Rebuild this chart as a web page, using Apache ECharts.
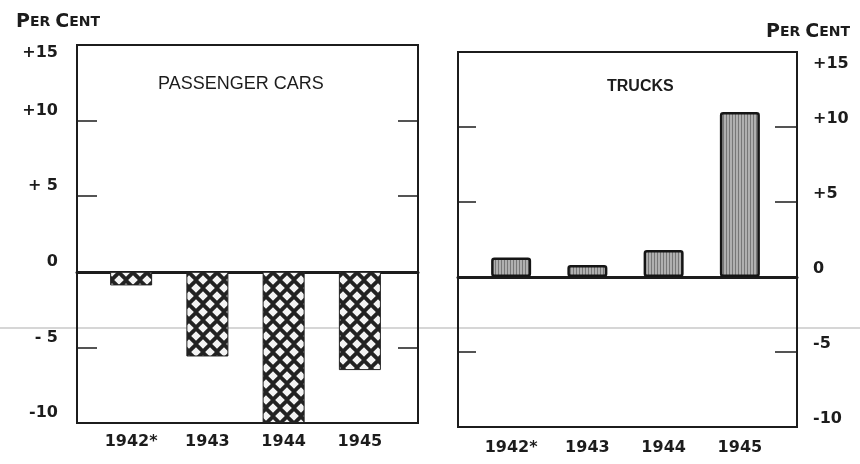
<!DOCTYPE html>
<html>
<head>
<meta charset="utf-8">
<script src="https://cdn.jsdelivr.net/npm/echarts@6/dist/echarts.min.js"></script>
<style>
  html, body { margin: 0; padding: 0; background: #fff; }
  #main { width: 860px; height: 464px; }
</style>
</head>
<body>
<div id="main"></div>
<script>
// data
var years = ['1942*', '1943', '1944', '1945'];
var passengerCars = [-0.9, -5.6, -10, -6.5];
var trucks = [1.3, 0.8, 1.8, 11.0];
var yTicks = [-10, -5, 0, 5, 10, 15];
var leftTickLabels = ['-10', '- 5', '0', '+ 5', '+10', '+15'];
var rightTickLabels = ['-10', '-5', '0', '+5', '+10', '+15'];

// cross-hatch for passenger cars: dark lattice with white diamonds
function crossHatch() {
    var c = document.createElement('canvas');
    c.width = 14; c.height = 16;
    var g = c.getContext('2d');
    g.fillStyle = '#222';
    g.fillRect(0, 0, 14, 16);
    g.fillStyle = '#f4f4f4';
    var h = 4.8;
    var pts = [[0, 0], [14, 0], [0, 16], [14, 16], [7, 8]];
    pts.forEach(function (p) {
        g.beginPath();
        g.moveTo(p[0], p[1] - h);
        g.lineTo(p[0] + h, p[1]);
        g.lineTo(p[0], p[1] + h);
        g.lineTo(p[0] - h, p[1]);
        g.closePath();
        g.fill();
    });
    return c;
}
// fine vertical hatching for trucks
function vertHatch() {
    var c = document.createElement('canvas');
    c.width = 3; c.height = 4;
    var g = c.getContext('2d');
    g.fillStyle = '#b0b0b0';
    g.fillRect(0, 0, 3, 4);
    g.fillStyle = '#777';
    g.fillRect(0, 0, 1, 4);
    return c;
}

// top: true -> only the +15 label, false -> all the others
function labelOf(list, top) {
    return function (v) {
        var i = yTicks.indexOf(v);
        if (i < 0) return '';
        if ((v === 15) !== top) return '';
        return list[i];
    };
}

var myChart = echarts.init(document.getElementById('main'));

var ink = '#1c1c1c';
var small = {
    a: { fontSize: 19, fontWeight: 'bold', color: ink, fontFamily: 'DejaVu Sans' },
    b: { fontSize: 14, fontWeight: 'bold', color: ink, fontFamily: 'DejaVu Sans' }
};

function frameY(pos, grid, tickLen, labels, lh) {
    return {
        type: 'value', gridIndex: grid, position: pos,
        min: -10, max: 15, interval: 5,
        axisLine: { show: false },
        axisTick: { show: true, inside: true, length: tickLen, lineStyle: { color: ink, width: 1.5 } },
        axisLabel: labels ? {
            show: true, margin: pos === 'left' ? 19 : 16,
            formatter: labelOf(labels, false),
            color: ink, fontSize: 16, fontWeight: 'bold',
            fontFamily: 'DejaVu Sans',
            verticalAlign: 'bottom', lineHeight: lh
        } : { show: false },
        splitLine: { show: false }
    };
}
// carries only the +15 label, hung just under the top edge of the frame
function topLabelY(pos, grid, labels, pad) {
    return {
        type: 'value', gridIndex: grid, position: pos,
        min: -10, max: 15, interval: 5,
        axisLine: { show: false }, axisTick: { show: false }, splitLine: { show: false },
        axisLabel: {
            show: true, margin: pos === 'left' ? 19 : 16,
            formatter: labelOf(labels, true),
            color: ink, fontSize: 16, fontWeight: 'bold',
            fontFamily: 'DejaVu Sans',
            verticalAlign: 'top', padding: [pad, 0, 0, 0]
        }
    };
}
function hiddenY(grid) {
    return { type: 'value', gridIndex: grid, min: -10, max: 15, interval: 5, show: false };
}
function frameX(grid) {
    return {
        type: 'category', gridIndex: grid, data: years,
        axisLine: { show: true, onZero: true, onZeroAxisIndex: grid === 0 ? 0 : 3, lineStyle: { color: ink, width: 3 } },
        axisTick: { show: false }, axisLabel: { show: false }
    };
}
function barX(grid, margin) {
    return {
        type: 'category', gridIndex: grid, data: years, position: 'bottom',
        axisLine: { show: false, onZero: false },
        axisTick: { show: false },
        axisLabel: { margin: margin, color: ink, fontSize: 16, fontWeight: 'bold', fontFamily: 'DejaVu Sans' }
    };
}

var option = {
    animation: false,
    backgroundColor: '#fff',
    title: [
        { text: '{a|P}{b|ER} {a|C}{b|ENT}', left: 11, top: 8, textStyle: { rich: small } },
        { text: '{a|P}{b|ER} {a|C}{b|ENT}', right: 5, top: 18, textStyle: { rich: small } },
        { text: 'PASSENGER CARS', left: 153, top: 70,
          textStyle: { fontSize: 18, fontWeight: 'normal', color: ink, fontFamily: 'Liberation Sans Narrow, Liberation Sans' } },
        { text: 'TRUCKS', left: 602, top: 74,
          textStyle: { fontSize: 16, fontWeight: 'bold', color: ink, fontFamily: 'Liberation Sans Narrow, Liberation Sans' } }
    ],
    grid: [
        { left: 77, top: 45, width: 341, height: 378, show: true, borderColor: ink, borderWidth: 2, backgroundColor: 'transparent' },
        { left: 93, top: 45, width: 305, height: 378 },
        { left: 458, top: 52, width: 339, height: 375, show: true, borderColor: ink, borderWidth: 2, backgroundColor: 'transparent' },
        { left: 473, top: 52, width: 305, height: 375 }
    ],
    xAxis: [frameX(0), barX(1, 11), frameX(2), barX(3, 13)],
    yAxis: [
        frameY('left', 0, 20, leftTickLabels, 20),
        frameY('right', 0, 20, null),
        hiddenY(1),
        frameY('left', 2, 18, null),
        frameY('right', 2, 22, rightTickLabels, 16),
        hiddenY(3),
        topLabelY('left', 0, leftTickLabels, 0),
        topLabelY('right', 2, rightTickLabels, 4)
    ],
    series: [
        {
            name: 'Passenger cars', type: 'bar',
            xAxisIndex: 1, yAxisIndex: 2,
            data: passengerCars, barWidth: 42,
            itemStyle: { color: { image: crossHatch(), repeat: 'repeat' }, borderColor: '#222', borderWidth: 1 }
        },
        {
            name: 'Trucks', type: 'bar',
            xAxisIndex: 3, yAxisIndex: 5,
            data: trucks, barWidth: 40,
            itemStyle: { color: { image: vertHatch(), repeat: 'repeat' }, borderColor: '#151515', borderWidth: 2.5, borderRadius: 2 }
        }
    ],
    graphic: [
        // faint scan streak across the page
        { type: 'rect', shape: { x: 0, y: 327, width: 860, height: 2 }, style: { fill: '#d6d6d6' }, z: -1 }
    ]
};

myChart.setOption(option);
</script>
</body>
</html>
